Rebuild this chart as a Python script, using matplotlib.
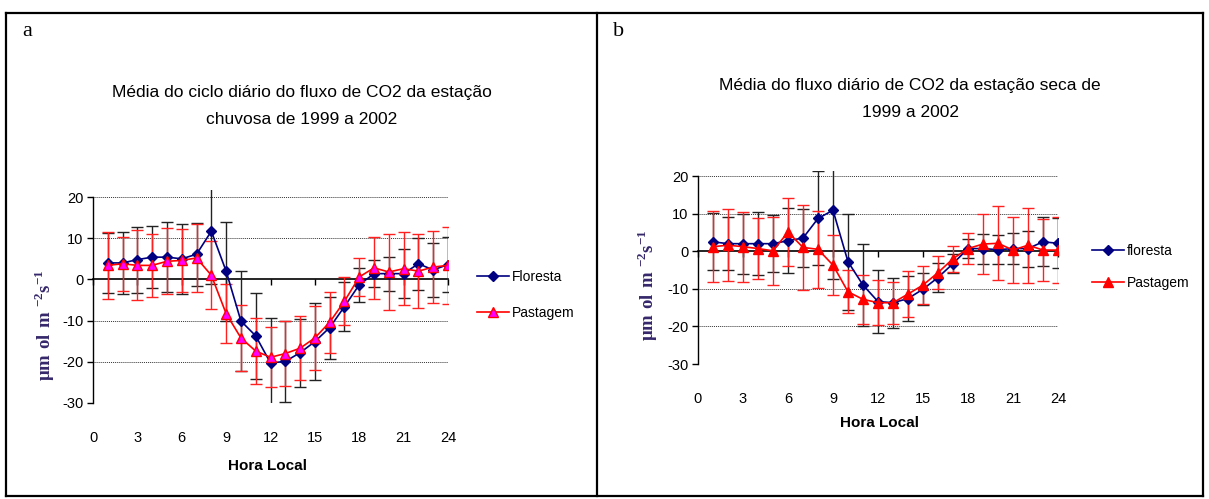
import matplotlib.pyplot as plt
import numpy as np
from matplotlib.lines import Line2D

plt.rcParams['font.family'] = ['Liberation Sans', 'DejaVu Sans']
plt.rcParams['axes.unicode_minus'] = False
plt.rcParams['mathtext.fontset'] = 'custom'
plt.rcParams['mathtext.rm'] = 'Liberation Serif'
plt.rcParams['mathtext.bf'] = 'Liberation Serif:bold'

hours = list(range(1, 25))

# estação chuvosa (a)
floresta_a = [4.0, 4.0, 4.8, 5.4, 5.4, 5.0, 6.1, 11.7, 2.0, -10.1, -13.7, -20.3,
              -19.9, -17.8, -15.1, -11.7, -6.6, -1.3, 1.4, 1.4, 1.4, 3.8, 2.3, 3.6]
floresta_a_err = [7.2, 7.6, 8.0, 7.5, 8.5, 8.5, 7.6, 12.8, 12.0, 12.1, 10.5, 11.0,
                  9.8, 8.3, 9.3, 7.5, 5.9, 4.1, 3.3, 4.1, 5.9, 6.3, 6.6, 6.6]
pastagem_a = [3.4, 3.8, 3.4, 3.4, 4.4, 4.6, 5.2, 1.0, -8.3, -14.2, -17.4, -18.9,
              -18.0, -16.7, -14.2, -10.4, -5.3, 0.6, 2.8, 1.8, 2.6, 2.0, 3.0, 3.4]
pastagem_a_err = [8.1, 6.5, 8.5, 7.6, 8.0, 7.6, 8.3, 8.3, 7.2, 8.0, 8.0, 7.3,
                  7.9, 7.8, 7.8, 7.4, 5.8, 4.7, 7.6, 9.2, 8.8, 9.0, 8.8, 9.4]

# estação seca (b)
floresta_b = [2.5, 2.0, 2.0, 2.0, 2.0, 2.8, 3.5, 8.7, 10.9, -2.8, -9.0, -13.4,
              -13.7, -12.6, -10.1, -7.0, -3.3, 0.7, 0.7, 0.4, 0.7, 0.7, 2.5, 2.1]
floresta_b_err = [7.6, 7.0, 8.0, 8.3, 7.6, 8.6, 7.8, 12.5, 18.3, 12.8, 11.0, 8.4,
                  6.6, 6.0, 4.3, 3.8, 2.5, 2.6, 4.0, 3.9, 4.1, 4.8, 6.5, 6.6]
pastagem_b = [1.2, 1.6, 1.2, 0.7, 0.1, 5.1, 1.0, 0.5, -3.7, -10.8, -12.8, -13.7,
              -13.7, -11.4, -9.0, -5.7, -2.0, 0.7, 1.9, 2.1, 0.3, 1.6, 0.3, 0.3]
pastagem_b_err = [9.5, 9.5, 9.3, 8.2, 9.0, 9.0, 11.4, 10.2, 7.9, 5.7, 6.6, 6.0,
                  5.6, 6.1, 5.0, 4.3, 3.4, 4.1, 7.9, 9.8, 8.8, 10.0, 8.2, 8.8]

xticks = list(range(0, 25, 3))
yticks = [-30, -20, -10, 0, 10, 20]
ylab = r'$\mathbf{\mu m\ ol\ m}$ $^{\mathbf{-2}}$$\mathbf{s}$$^{\mathbf{-1}}$'
navy = '#000080'

W, H = 1209, 499
fig = plt.figure(figsize=(W / 100, H / 100), dpi=100)


def box(x0, y0, x1, y1):
    # pixel box -> figure fraction [left, bottom, width, height]
    return [x0 / W, 1 - y1 / H, (x1 - x0) / W, (y1 - y0) / H]


def px(x, y):
    return (x / W, 1 - y / H)


def panel(rect, ytop, fl, fl_err, pa, pa_err, fl_name, pa_face, title, title_xy,
          letter, letter_xy, leg_xy, leg_space, ylab_xy, xlab_xy):
    ax = fig.add_axes(rect)
    ax.errorbar(hours, fl, yerr=fl_err, fmt='none', ecolor='#222222', elinewidth=1,
                capsize=4, capthick=1, zorder=2)
    ax.errorbar(hours, pa, yerr=pa_err, fmt='none', ecolor='#ff2020', elinewidth=1,
                capsize=4, capthick=1, zorder=3)
    ax.plot(hours, fl, color=navy, lw=1.2, marker='D', ms=5, mfc=navy, mec=navy,
            label=fl_name, zorder=4)
    ax.plot(hours, pa, color='#ff0000', lw=1.2, marker='^', ms=6.5, mfc=pa_face,
            mec='#ff0000', label='Pastagem', zorder=5)

    ax.set_xlim(0, 24)
    ax.set_ylim(-30, ytop)
    for y in [20, 10, -10, -20, -30]:
        ax.axhline(y, color='#333333', lw=0.7, ls=(0, (1, 1)), zorder=0)

    for s in ['top', 'right', 'bottom']:
        ax.spines[s].set_visible(False)
    ax.spines['left'].set_bounds(-30, 20)
    ax.spines['left'].set_linewidth(1)

    ax.set_yticks(yticks)
    ax.tick_params(axis='y', direction='out', length=4, width=1, labelsize=10.5, pad=3)
    ax.set_xticks(xticks)
    ax.tick_params(axis='x', length=0, labelsize=10.5, pad=20)

    # category axis crossing at zero
    zx = ax.secondary_xaxis(0, transform=ax.transData)
    zx.set_xticks(xticks)
    zx.set_xticklabels([])
    zx.tick_params(axis='x', direction='out', length=4, width=1)
    zx.spines['bottom'].set_linewidth(1.2)

    ax.legend(loc='center left', bbox_to_anchor=px(*leg_xy), bbox_transform=fig.transFigure,
              frameon=False, fontsize=10, handlelength=2.3, handletextpad=0.2,
              labelspacing=leg_space, borderpad=0, borderaxespad=0)

    fig.text(*px(*title_xy), title, ha='center', va='center', fontsize=12.5,
             linespacing=2.0)
    fig.text(*px(*letter_xy), letter, family='Liberation Serif', fontsize=16,
             ha='left', va='center')
    fig.text(*px(*ylab_xy), ylab, rotation=90, ha='center', va='center', fontsize=13.5,
             color='#35276a')
    fig.text(*px(*xlab_xy), 'Hora Local', ha='center', va='center', fontsize=11,
             fontweight='bold')
    return ax


# panel a
ya = 4.12
panel(box(93, 197 - 1.7 * ya, 448, 403), 21.7, floresta_a, floresta_a_err,
      pastagem_a, pastagem_a_err, 'Floresta', '#ff00ff',
      'Média do ciclo diário do fluxo de CO2 da estação\nchuvosa de 1999 a 2002',
      (302, 106), 'a', (22, 32), (477, 295), 1.55, (45, 325), (268, 466))

# panel b
yb = 3.76
panel(box(698, 176 - 1.2 * yb, 1058, 364), 21.2, floresta_b, floresta_b_err,
      pastagem_b, pastagem_b_err, 'floresta', '#ff0000',
      'Média do fluxo diário de CO2 da estação seca de\n1999 a 2002',
      (910, 99), 'b', (613, 32), (1092, 267), 1.25, (648, 285), (880, 423))

# table frame around the two panels
for xs, ys in [([6, 1203], [13, 13]), ([6, 1203], [496, 496]), ([6, 6], [13, 496]),
               ([597, 597], [13, 496]), ([1203, 1203], [13, 496])]:
    fig.add_artist(Line2D([x / W for x in xs], [1 - y / H for y in ys],
                          color='black', lw=1.6))

fig.savefig('out.png', dpi=100)
